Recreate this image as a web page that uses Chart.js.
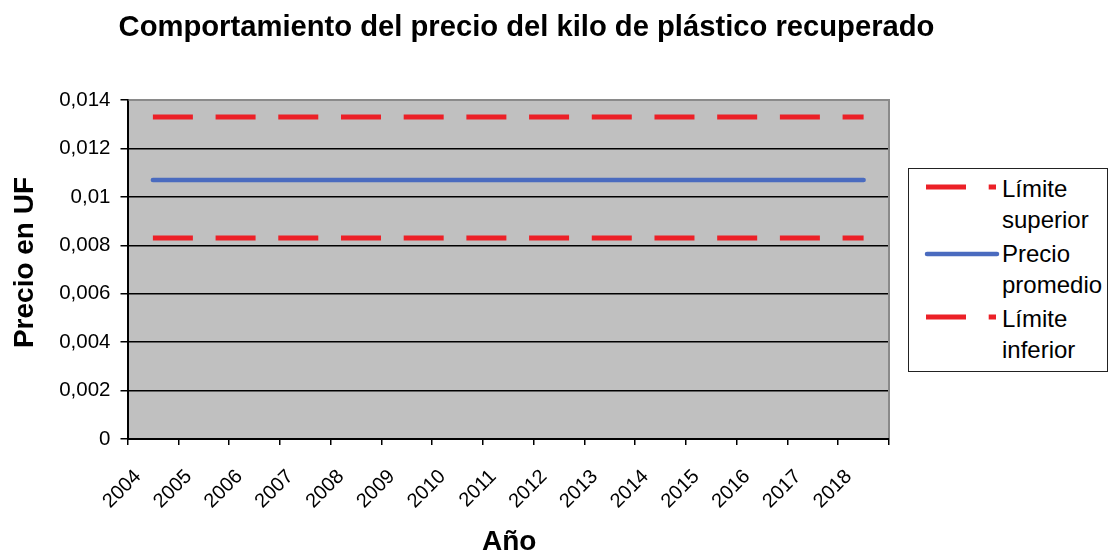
<!DOCTYPE html>
<html lang="es">
<head>
<meta charset="utf-8">
<title>Comportamiento del precio del kilo de plástico recuperado</title>
<script src="https://cdn.jsdelivr.net/npm/chart.js@4.4.1/dist/chart.umd.min.js"></script>
<style>
  html, body { margin: 0; padding: 0; background: #ffffff; }
  #wrap { position: relative; width: 1109px; height: 556px; overflow: hidden; }
  #chart { position: absolute; left: 0; top: 0; }
  #legend {
    position: absolute; left: 908px; top: 168px; width: 200px; height: 204px;
    box-sizing: border-box; border: 1.5px solid #222; background: #ffffff;
    font-family: 'Liberation Sans', Arial, sans-serif; font-size: 24px; color: #000;
  }
  .item { position: absolute; left: 0; width: 100%; }
  .item svg { position: absolute; left: 13px; }
  .item .txt { position: absolute; left: 93px; width: 104px; line-height: 31px; }
</style>
</head>
<body>
<div id="wrap">
  <canvas id="chart" width="1109" height="556"></canvas>
  <div id="legend"></div>
</div>
<script>
// Years on the category axis
const years = ['2004', '2005', '2006', '2007', '2008', '2009', '2010', '2011',
               '2012', '2013', '2014', '2015', '2016', '2017', '2018'];

// Price per kilo (UF)
const limiteSuperior = [0.0133, 0.0133, 0.0133, 0.0133, 0.0133, 0.0133, 0.0133, 0.0133,
                        0.0133, 0.0133, 0.0133, 0.0133, 0.0133, 0.0133, 0.0133];
const precioPromedio = [0.0107, 0.0107, 0.0107, 0.0107, 0.0107, 0.0107, 0.0107, 0.0107,
                        0.0107, 0.0107, 0.0107, 0.0107, 0.0107, 0.0107, 0.0107];
const limiteInferior = [0.0083, 0.0083, 0.0083, 0.0083, 0.0083, 0.0083, 0.0083, 0.0083,
                        0.0083, 0.0083, 0.0083, 0.0083, 0.0083, 0.0083, 0.0083];

// Value-axis labels, bottom to top
const yTickLabels = ['0', '0,002', '0,004', '0,006', '0,008', '0,01', '0,012', '0,014'];

const chartTitle = 'Comportamiento del precio del kilo de plástico recuperado';
const xAxisTitle = 'Año';
const yAxisTitle = 'Precio en UF';

const FONT = "'Liberation Sans', Arial, sans-serif";

// Gray plot background and the light frame on its top and right edges
const plotFrame = {
  id: 'plotFrame',
  beforeDraw(chart) {
    const { ctx, chartArea: a } = chart;
    ctx.save();
    ctx.fillStyle = '#c0c0c0';
    ctx.fillRect(a.left, a.top, a.right - a.left, a.bottom - a.top);
    ctx.restore();
  },
  beforeDatasetsDraw(chart) {
    const { ctx, chartArea: a } = chart;
    ctx.save();
    ctx.strokeStyle = '#8a8a8a';
    ctx.lineWidth = 2;
    ctx.beginPath();
    ctx.moveTo(a.left + 1, a.top);
    ctx.lineTo(a.right, a.top);
    ctx.lineTo(a.right, a.bottom - 1);
    ctx.stroke();
    ctx.restore();
  }
};

// Chart title and axis titles
const captions = {
  id: 'captions',
  afterDraw(chart) {
    const { ctx, chartArea: a } = chart;
    ctx.save();
    ctx.fillStyle = '#000';
    ctx.textBaseline = 'alphabetic';
    ctx.textAlign = 'center';

    ctx.font = 'bold 29.2px ' + FONT;
    ctx.fillText(chartTitle, 526.5, 36);

    ctx.font = 'bold 28px ' + FONT;
    ctx.fillText(xAxisTitle, (a.left + a.right) / 2 + 1, 550);

    ctx.translate(33, 262.5);
    ctx.rotate(-Math.PI / 2);
    ctx.fillText(yAxisTitle, 0, 0);
    ctx.restore();
  }
};

const chart = new Chart(document.getElementById('chart'), {
  type: 'line',
  data: {
    labels: years,
    datasets: [
      {
        label: 'Límite superior',
        data: limiteSuperior,
        borderColor: '#ec2027',
        borderWidth: 5,
        borderDash: [40, 22.7],
        borderCapStyle: 'butt',
        pointRadius: 0,
        pointHoverRadius: 0,
        fill: false
      },
      {
        label: 'Precio promedio',
        data: precioPromedio,
        borderColor: '#4a6bbf',
        borderWidth: 4.5,
        borderCapStyle: 'round',
        pointRadius: 0,
        pointHoverRadius: 0,
        fill: false
      },
      {
        label: 'Límite inferior',
        data: limiteInferior,
        borderColor: '#ec2027',
        borderWidth: 5,
        borderDash: [40, 22.7],
        borderCapStyle: 'butt',
        pointRadius: 0,
        pointHoverRadius: 0,
        fill: false
      }
    ]
  },
  options: {
    responsive: false,
    devicePixelRatio: 1,
    animation: false,
    layout: { padding: { top: 100, right: 220, bottom: 0, left: 0 } },
    plugins: {
      legend: { display: false },
      title: { display: false },
      tooltip: { enabled: false }
    },
    scales: {
      x: {
        type: 'category',
        offset: true,
        afterFit(scale) { scale.height = 117; },
        grid: {
          offset: true,
          drawOnChartArea: false,
          drawTicks: true,
          tickLength: 6,
          color: '#000',
          lineWidth: 1.5
        },
        border: { display: true, color: '#000', width: 2 },
        ticks: {
          autoSkip: false,
          maxRotation: 45,
          minRotation: 45,
          labelOffset: -15,
          padding: 20,
          color: '#000',
          font: { family: FONT, size: 20 }
        }
      },
      y: {
        min: 0,
        max: 0.014,
        afterFit(scale) { scale.width = 127.5; },
        grid: {
          drawTicks: true,
          tickLength: 7,
          color: '#000',
          lineWidth: 1.5
        },
        border: { display: true, color: '#000', width: 2 },
        ticks: {
          stepSize: 0.002,
          padding: 10,
          color: '#000',
          font: { family: FONT, size: 20.5 },
          callback: (value, index) => yTickLabels[index]
        }
      }
    }
  },
  plugins: [plotFrame, captions]
});

// Legend built from the datasets, labels wrap inside the box
(function buildLegend() {
  const box = document.getElementById('legend');
  const NS = 'http://www.w3.org/2000/svg';
  chart.data.datasets.forEach((ds, i) => {
    const item = document.createElement('div');
    item.className = 'item';
    item.style.top = (4 + i * 65) + 'px';

    const svg = document.createElementNS(NS, 'svg');
    svg.setAttribute('width', '80');
    svg.setAttribute('height', '10');
    svg.style.top = (i === 1 ? 11 : 9) + 'px';
    const ln = document.createElementNS(NS, 'line');
    const dashed = Array.isArray(ds.borderDash) && ds.borderDash.length;
    ln.setAttribute('x1', dashed ? '4' : '5');
    ln.setAttribute('x2', dashed ? '74' : '75');
    ln.setAttribute('y1', '5');
    ln.setAttribute('y2', '5');
    ln.setAttribute('stroke', ds.borderColor);
    ln.setAttribute('stroke-width', ds.borderWidth);
    ln.setAttribute('stroke-linecap', ds.borderCapStyle || 'butt');
    if (dashed) ln.setAttribute('stroke-dasharray', ds.borderDash.join(' '));
    svg.appendChild(ln);

    const txt = document.createElement('div');
    txt.className = 'txt';
    txt.textContent = ds.label;

    item.appendChild(svg);
    item.appendChild(txt);
    box.appendChild(item);
  });
})();
</script>
</body>
</html>
